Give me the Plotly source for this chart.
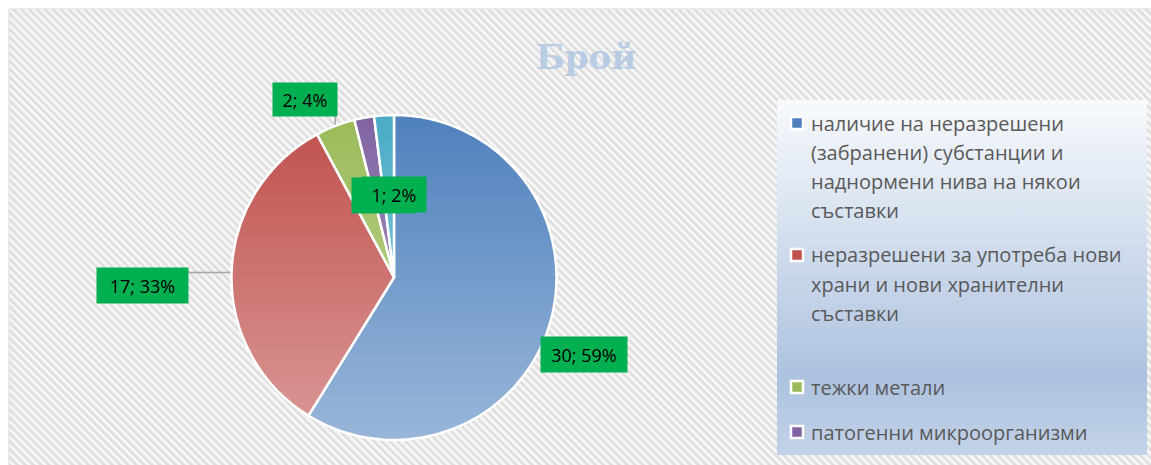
import base64
import math
import textwrap
import plotly.graph_objects as go

# ---------------- data ----------------
categories = [
    "наличие на неразрешени (забранени) субстанции и наднормени нива на някои съставки",
    "неразрешени за употреба нови храни и нови хранителни съставки",
    "тежки метали",
    "патогенни микроорганизми",
    "други",
]
values = [30, 17, 2, 1, 1]
title_text = "Брой"

# ---------------- style ----------------
colors = ["#4F81BD", "#C0504D", "#9BBB59", "#8064A2", "#4BACC6"]
W, H = 1151, 465
CX, CY, R = 394, 277.5, 162.5          # pie centre / radius (px)
label_rfrac = [1.0, 1.0, 1.0, 0.5, 0.5]
label_off = [(34, 32.5), (-89, 13), (-30, -26.5), (5, -2), (5, -1.5)]
label_w = [86, 91, 64, 64, 64]
label_h = [35, 35, 33, 35, 35]
leader = [False, True, True, False, False]
legend_shown = 4                         # the 5th entry is cut off by the frame
legend_first_line = [123, 255, 387, 432]
legend_line_gap = 29.3
LBL_FONT = "Open Sans"


def px(x):
    return x / W


def py(y):
    return 1 - y / H


def svg_uri(svg):
    return "data:image/svg+xml;base64," + base64.b64encode(svg.encode("utf-8")).decode()


total = sum(values)

fig = go.Figure()
fig.add_trace(go.Pie(
    labels=categories, values=values, sort=False, direction="clockwise", rotation=0,
    marker=dict(colors=colors, line=dict(color="white", width=2.5)),
    textinfo="none", textposition="none", hoverinfo="label+value+percent",
    domain=dict(x=[px(CX - R), px(CX + R)], y=[py(CY + R), py(CY - R)]),
    showlegend=False,
))

# ---- background images (striped chart area, legend gradient, pie shading) ----
bx0, by0 = 9, 9
bw, bh = W - bx0, H - by0
bg_svg = f'''<svg xmlns="http://www.w3.org/2000/svg" width="{bw}" height="{bh}">
<defs>
<linearGradient id="g" x1="0" y1="0" x2="1" y2="0">
<stop offset="0" stop-color="#ffffff"/><stop offset="0.5" stop-color="#d6d6d6"/><stop offset="1" stop-color="#ffffff"/>
</linearGradient>
<pattern id="p" width="5.6" height="5.6" patternUnits="userSpaceOnUse" patternTransform="rotate(-45)">
<rect width="5.6" height="5.6" fill="url(#g)"/>
</pattern></defs>
<rect width="100%" height="100%" fill="url(#p)"/></svg>'''

lx0, ly0, lx1, ly1 = 777, 100, 1147, 455
lg_svg = f'''<svg xmlns="http://www.w3.org/2000/svg" width="{lx1-lx0}" height="{ly1-ly0}">
<defs><linearGradient id="l" x1="0" y1="0" x2="0" y2="1">
<stop offset="0" stop-color="#f8fafd"/><stop offset="0.78" stop-color="#adc2df"/><stop offset="1" stop-color="#c2d2e8"/>
</linearGradient></defs>
<rect width="100%" height="100%" fill="url(#l)"/></svg>'''

d = 2 * R
pie_svg = f'''<svg xmlns="http://www.w3.org/2000/svg" width="{d}" height="{d}">
<defs><linearGradient id="s" x1="0" y1="0" x2="0" y2="1">
<stop offset="0" stop-color="#ffffff" stop-opacity="0"/><stop offset="1" stop-color="#ffffff" stop-opacity="0.42"/>
</linearGradient></defs>
<circle cx="{R}" cy="{R}" r="{R-1}" fill="url(#s)"/></svg>'''

images = [
    dict(source=svg_uri(bg_svg), xref="paper", yref="paper", x=px(bx0), y=py(by0),
         sizex=bw / W, sizey=bh / H, xanchor="left", yanchor="top", sizing="stretch", layer="below"),
    dict(source=svg_uri(lg_svg), xref="paper", yref="paper", x=px(lx0), y=py(ly0),
         sizex=(lx1 - lx0) / W, sizey=(ly1 - ly0) / H, xanchor="left", yanchor="top",
         sizing="stretch", layer="below"),
    dict(source=svg_uri(pie_svg), xref="paper", yref="paper", x=px(CX - R), y=py(CY - R),
         sizex=d / W, sizey=d / H, xanchor="left", yanchor="top", sizing="stretch", layer="above"),
]

shapes = [
    dict(type="rect", xref="paper", yref="paper", x0=px(bx0), y0=py(H + 5), x1=px(W + 5), y1=py(by0),
         line=dict(color="#d9d9d9", width=1), fillcolor="rgba(0,0,0,0)", layer="below"),
]
annotations = []

# ---- data labels ----
cum = 0
for i, v in enumerate(values):
    mid = (cum + v / 2) / total * 2 * math.pi
    cum += v
    ex = CX + R * label_rfrac[i] * math.sin(mid)
    ey = CY - R * label_rfrac[i] * math.cos(mid)
    lx = ex + label_off[i][0]
    ly = ey + label_off[i][1]
    if leader[i]:
        bl, br = lx - label_w[i] / 2, lx + label_w[i] / 2
        bt, bb = ly - label_h[i] / 2, ly + label_h[i] / 2
        nx = min(max(ex, bl), br)
        ny = min(max(ey, bt), bb)
        shapes.append(dict(type="line", xref="paper", yref="paper", x0=px(nx), y0=py(ny),
                           x1=px(ex), y1=py(ey), line=dict(color="#a6a6a6", width=1.5), layer="below"))
    annotations.append(dict(
        text=f"{v}; {round(100 * v / total)}%", x=px(lx), y=py(ly), xref="paper", yref="paper",
        xanchor="center", yanchor="middle", showarrow=False, bgcolor="#00B050",
        width=label_w[i], height=label_h[i], borderpad=0,
        font=dict(family=LBL_FONT, size=18, color="#000000")))

# ---- manual legend ----
for i in range(legend_shown):
    y0 = legend_first_line[i]
    shapes.append(dict(type="rect", xref="paper", yref="paper",
                       x0=px(791), x1=px(803), y0=py(y0 + 6), y1=py(y0 - 6),
                       fillcolor=colors[i], line=dict(color="white", width=2.5), layer="above"))
    for j, line in enumerate(textwrap.wrap(categories[i], 29)):
        annotations.append(dict(
            text=line, x=px(809), y=py(y0 + j * legend_line_gap), xref="paper", yref="paper",
            xanchor="left", yanchor="middle", showarrow=False,
            font=dict(family=LBL_FONT, size=20, color="#595959")))

fig.update_layout(
    width=W, height=H, margin=dict(l=0, r=0, t=0, b=0),
    paper_bgcolor="white", plot_bgcolor="white",
    title=dict(text=title_text, x=px(586), y=py(57), xanchor="center", yanchor="middle",
               xref="paper", yref="paper",
               font=dict(family="DejaVu Serif", size=34, color="#b9cce4", weight="bold")),
    images=images, shapes=shapes, annotations=annotations,
)

fig.write_html("out.html", config={"displayModeBar": False},
               post_script="document.body.style.margin='0';")
